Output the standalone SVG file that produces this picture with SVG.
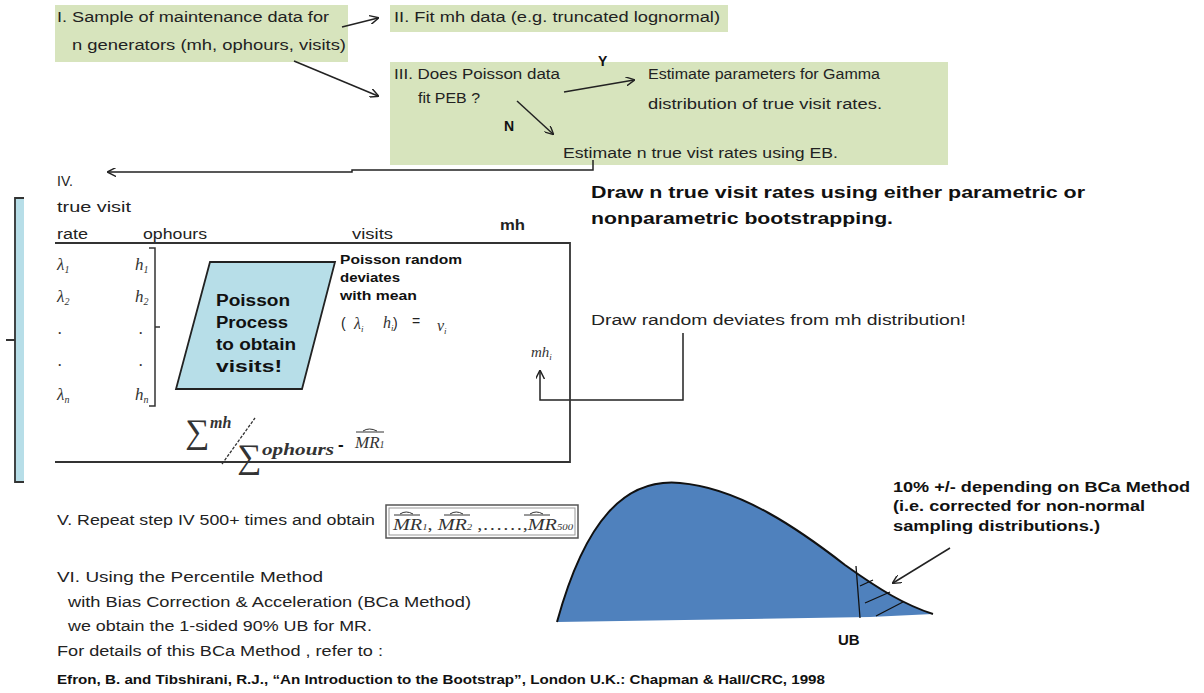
<svg xmlns="http://www.w3.org/2000/svg" width="1204" height="693" viewBox="0 0 1204 693">
<style>
.t{font-family:"Liberation Sans",Arial,sans-serif;font-size:14px;fill:#222}
.b{font-family:"Liberation Sans",Arial,sans-serif;font-weight:bold;fill:#111}
.m{font-family:"Liberation Serif","Times New Roman",serif;font-style:italic;fill:#333}
.g{fill:#d7e4bd;stroke:none}
.ln{fill:none;stroke:#222;stroke-width:1.5}
</style>
<defs>
<marker id="ah" viewBox="0 0 10 10" refX="9" refY="5" markerWidth="9" markerHeight="9" markerUnits="userSpaceOnUse" orient="auto">
<path d="M0,0 L10,5 L0,10" fill="none" stroke="#222" stroke-width="1.6"/>
</marker>
</defs>
<rect width="1204" height="693" fill="#fff"/>

<g id="node-I">
<rect class="g" x="55" y="5" width="293" height="57"/>
<text class="t" x="57" y="22" textLength="272" lengthAdjust="spacingAndGlyphs">I. Sample of maintenance data for</text>
<text class="t" x="72" y="50" textLength="274" lengthAdjust="spacingAndGlyphs">n generators (mh, ophours, visits)</text>
</g>
<g id="node-II">
<rect class="g" x="390" y="5" width="338" height="27"/>
<text class="t" x="394" y="22" textLength="326" lengthAdjust="spacingAndGlyphs">II. Fit mh data (e.g. truncated lognormal)</text>
</g>
<g id="node-III">
<rect class="g" x="390" y="62" width="558" height="103"/>
<text class="t" x="394" y="79" textLength="166" lengthAdjust="spacingAndGlyphs">III. Does Poisson data</text>
<text class="t" x="418" y="103" textLength="62" lengthAdjust="spacingAndGlyphs">fit PEB ?</text>
<text class="t" x="648" y="79" textLength="232" lengthAdjust="spacingAndGlyphs">Estimate parameters for Gamma</text>
<text class="t" x="648" y="109" textLength="234" lengthAdjust="spacingAndGlyphs">distribution of true visit rates.</text>
<text class="t" x="563" y="158" textLength="275" lengthAdjust="spacingAndGlyphs">Estimate n true vist rates using EB.</text>
<text class="b" x="598" y="66" font-size="14">Y</text>
<text class="b" x="504" y="131" font-size="14">N</text>
</g>

<g id="connectors">
<path class="ln" d="M342,27 L378,18" marker-end="url(#ah)"/>
<path class="ln" d="M294,61 L378,96" marker-end="url(#ah)"/>
<path class="ln" d="M564,92 L634,80" marker-end="url(#ah)"/>
<path class="ln" d="M517,101 L553,134" marker-end="url(#ah)"/>
<path class="ln" d="M593,160 V170 H352 V172 H108" marker-end="url(#ah)"/>
<path class="ln" d="M683,333 V400 H540 V371" marker-end="url(#ah)"/>
<path class="ln" d="M950,548 L893,583" stroke="#333" marker-end="url(#ah)"/>
</g>

<g id="node-IV">
<text class="t" x="57" y="186">IV.</text>
<text class="t" x="57" y="212" textLength="74" lengthAdjust="spacingAndGlyphs">true visit</text>
<text class="t" x="57" y="239" textLength="31" lengthAdjust="spacingAndGlyphs">rate</text>
<text class="t" x="143" y="239" textLength="64" lengthAdjust="spacingAndGlyphs">ophours</text>
<text class="t" x="352" y="239" textLength="41" lengthAdjust="spacingAndGlyphs">visits</text>
<text class="t" x="500" y="230" font-weight="bold" textLength="25" lengthAdjust="spacingAndGlyphs">mh</text>
<path d="M55,243 H570 V462 H55" fill="none" stroke="#333" stroke-width="1.8"/>
<path d="M14,198 H24 V482 H14 Z" fill="#b7dee8" stroke="none"/>
<path d="M24,198 H15 V482 H24 M15,340 H6" fill="none" stroke="#333" stroke-width="1.8"/>
<path d="M149,248 H155 V406 H149 M155,327 H160" fill="none" stroke="#333" stroke-width="1.5"/>
<g class="m" font-size="17">
<text x="57" y="270">λ<tspan font-size="10" dy="3">1</tspan></text>
<text x="57" y="302">λ<tspan font-size="10" dy="3">2</tspan></text>
<text x="58" y="334">.</text>
<text x="58" y="366">.</text>
<text x="57" y="400">λ<tspan font-size="10" dy="3">n</tspan></text>
<text x="135" y="270">h<tspan font-size="10" dy="3">1</tspan></text>
<text x="135" y="302">h<tspan font-size="10" dy="3">2</tspan></text>
<text x="139" y="334">.</text>
<text x="139" y="366">.</text>
<text x="135" y="400">h<tspan font-size="10" dy="3">n</tspan></text>
</g>
</g>

<g id="node-poisson">
<polygon points="210,262 335,262 302,389 176,389" fill="#b7dee8" stroke="#222" stroke-width="1.8"/>
<text class="b" font-size="16" x="216" y="306" textLength="74" lengthAdjust="spacingAndGlyphs">Poisson</text>
<text class="b" font-size="16" x="216" y="328" textLength="72" lengthAdjust="spacingAndGlyphs">Process</text>
<text class="b" font-size="16" x="216" y="350" textLength="80" lengthAdjust="spacingAndGlyphs">to obtain</text>
<text class="b" font-size="16" x="216" y="372" textLength="66" lengthAdjust="spacingAndGlyphs">visits!</text>
</g>

<g id="node-deviates">
<text class="b" font-size="12" x="340" y="264" textLength="122" lengthAdjust="spacingAndGlyphs">Poisson random</text>
<text class="b" font-size="12" x="340" y="282" textLength="60" lengthAdjust="spacingAndGlyphs">deviates</text>
<text class="b" font-size="12" x="340" y="300" textLength="77" lengthAdjust="spacingAndGlyphs">with mean</text>
<text class="t" x="341" y="328" font-size="17">(</text>
<text class="m" x="354" y="329" font-size="16">λ<tspan font-size="9" dy="3">i</tspan></text>
<text class="m" x="383" y="328" font-size="16">h<tspan font-size="9" dy="3">i</tspan></text>
<text class="t" x="393" y="328" font-size="17">)</text>
<text class="t" x="412" y="326" font-size="16">=</text>
<text class="m" x="437" y="331" font-size="16">v<tspan font-size="9" dy="3">i</tspan></text>
<text class="m" x="531" y="357" font-size="15">mh<tspan font-size="9" dy="3">i</tspan></text>
</g>

<g id="node-formula">
<text class="m" x="185" y="443" font-size="34" font-style="normal">∑</text>
<text class="m" x="210" y="428" font-size="16" font-weight="bold">mh</text>
<path d="M222,464 L255,418" stroke="#333" stroke-width="1.3" stroke-dasharray="3,1.5" fill="none"/>
<text class="m" x="237" y="468" font-size="34" font-style="normal">∑</text>
<text class="m" x="262" y="455" font-size="17" font-weight="bold" textLength="72" lengthAdjust="spacingAndGlyphs">ophours</text>
<text class="b" x="338" y="450" font-size="17">-</text>
<text class="m" x="355" y="448" font-size="17">MR<tspan font-size="10">1</tspan></text>
<path d="M356,432 H384 M363,431 Q369,427 377,431" fill="none" stroke="#333" stroke-width="1"/>
</g>

<g id="node-draw">
<text class="b" font-size="17" x="591" y="198" textLength="494" lengthAdjust="spacingAndGlyphs">Draw n true visit rates using either parametric  or</text>
<text class="b" font-size="17" x="591" y="224" textLength="302" lengthAdjust="spacingAndGlyphs">nonparametric bootstrapping.</text>
<text class="t" x="591" y="325" textLength="375" lengthAdjust="spacingAndGlyphs">Draw random deviates from mh distribution!</text>
</g>

<g id="node-V">
<text class="t" x="57" y="525" textLength="318" lengthAdjust="spacingAndGlyphs">V. Repeat step IV 500+ times and obtain</text>
<rect x="386" y="505" width="192" height="33" fill="#fff" stroke="#555" stroke-width="1.5"/>
<rect x="389" y="508" width="186" height="27" fill="none" stroke="#999" stroke-width="1"/>
<text class="m" x="393" y="530" font-size="17" textLength="180" lengthAdjust="spacingAndGlyphs">MR<tspan font-size="9">1</tspan><tspan font-style="normal">, </tspan>MR<tspan font-size="9">2</tspan><tspan font-style="normal"> ,……,</tspan>MR<tspan font-size="9">500</tspan></text>
<path d="M394,515 H420 M400,514 Q406,510 413,514 M444,515 H470 M450,514 Q456,510 463,514 M524,515 H550 M530,514 Q536,510 543,514" fill="none" stroke="#333" stroke-width="1"/>
</g>

<g id="node-VI">
<text class="t" x="57" y="582" textLength="266" lengthAdjust="spacingAndGlyphs">VI.   Using the Percentile Method</text>
<text class="t" x="68" y="607" textLength="403" lengthAdjust="spacingAndGlyphs">with Bias Correction &amp; Acceleration (BCa Method)</text>
<text class="t" x="68" y="631" textLength="304" lengthAdjust="spacingAndGlyphs">we obtain the 1-sided 90% UB for MR.</text>
<text class="t" x="57" y="656" textLength="326" lengthAdjust="spacingAndGlyphs">For details of this BCa Method , refer to :</text>
<text class="b" font-size="12" x="57" y="684" textLength="768" lengthAdjust="spacingAndGlyphs">Efron, B. and Tibshirani, R.J., “An Introduction to the Bootstrap”, London U.K.: Chapman &amp; Hall/CRC, 1998</text>
</g>

<g id="node-curve">
<path d="M557,622 C585,520 625,478 680,483 C740,488 800,530 845,565 C880,590 905,605 933,614 L870,617 L557,622 Z" fill="#4f81bd" stroke="none"/>
<path d="M557,622 C585,520 625,478 680,483 C740,488 800,530 845,565 C880,590 905,605 933,614" fill="none" stroke="#111" stroke-width="2"/>
<path d="M856,566 L860,618 M860,586 L873,580 M865,603 L890,592 M876,616 L903,602" fill="none" stroke="#111" stroke-width="1.3"/>
<text class="b" font-size="15" x="838" y="645">UB</text>
<text class="b" font-size="14" x="893" y="492" textLength="297" lengthAdjust="spacingAndGlyphs">10% +/- depending on BCa Method</text>
<text class="b" font-size="14" x="893" y="511" textLength="252" lengthAdjust="spacingAndGlyphs">(i.e. corrected for non-normal</text>
<text class="b" font-size="14" x="893" y="531" textLength="207" lengthAdjust="spacingAndGlyphs">sampling distributions.)</text>
</g>
</svg>
